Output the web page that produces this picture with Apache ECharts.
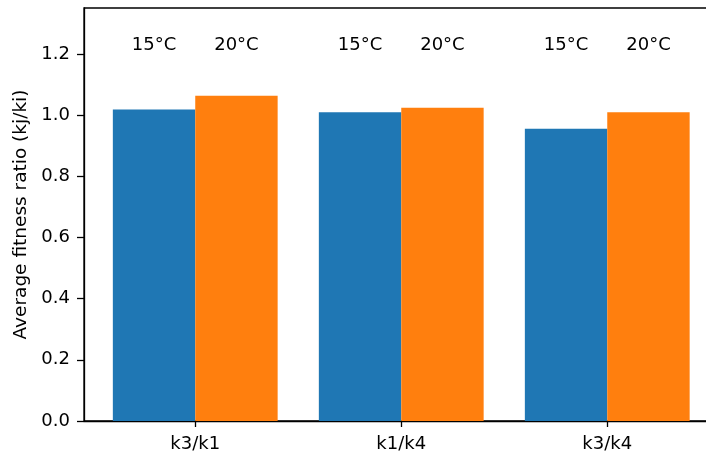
<!DOCTYPE html>
<html>
<head>
<meta charset="utf-8">
<script src="https://cdn.jsdelivr.net/npm/echarts@6/dist/echarts.min.js"></script>
<style>
  html, body { margin: 0; padding: 0; background: #fff; }
  #chart { width: 706px; height: 452px; }
</style>
</head>
<body>
<div id="chart"></div>
<script>
// Ratio pairs and the average fitness ratio measured at each temperature
const categories = ['k3/k1', 'k1/k4', 'k3/k4'];
const temps = ['15°C', '20°C'];
const ratio15 = [1.018, 1.009, 0.955];
const ratio20 = [1.063, 1.024, 1.009];
const yTicks = [0, 0.2, 0.4, 0.6, 0.8, 1.0, 1.2];
const tempLabelY = 1.228;

const colors = ['#1f77b4', '#ff7f0e'];
const FONT = 'DejaVu Sans';
const FS = 18;
const xMin = -0.54, xMax = 2.54;
const halfBar = 0.2;

function barData(values, offset) {
  return values.map((v, i) => [i + offset, v]);
}

function barRender(color) {
  return function (params, api) {
    const x = api.value(0), y = api.value(1);
    const p0 = api.coord([x - halfBar, y]);
    const p1 = api.coord([x + halfBar, 0]);
    return {
      type: 'rect',
      shape: { x: p0[0], y: p0[1], width: p1[0] - p0[0], height: p1[1] - p0[1] },
      style: { fill: color }
    };
  };
}

// temperature captions above each bar
const labelPoints = [];
const labelTexts = [];
categories.forEach((c, i) => {
  labelPoints.push([i - halfBar, tempLabelY]); labelTexts.push(temps[0]);
  labelPoints.push([i + halfBar, tempLabelY]); labelTexts.push(temps[1]);
});

function textRender(params, api) {
  const p = api.coord([api.value(0), api.value(1)]);
  return {
    type: 'text', x: p[0], y: p[1],
    style: {
      text: labelTexts[params.dataIndex], fill: '#000',
      font: FS + 'px "' + FONT + '"', align: 'center', verticalAlign: 'middle'
    }
  };
}

const chart = echarts.init(document.getElementById('chart'), null, { renderer: 'canvas' });
chart.setOption({
  animation: false,
  backgroundColor: '#fff',
  grid: {
    left: 84, top: 8, width: 634.5, height: 413,
    outerBoundsMode: 'none', containLabel: false,
    show: true, borderColor: '#000', borderWidth: 1.3, backgroundColor: 'transparent'
  },
  xAxis: {
    type: 'value', min: xMin, max: xMax,
    splitLine: { show: false },
    axisLine: { show: true, onZero: false, lineStyle: { color: '#000', width: 1.3 } },
    axisTick: { show: true, customValues: [0, 1, 2], length: 6, lineStyle: { color: '#000', width: 1.3 } },
    axisLabel: {
      customValues: [0, 1, 2],
      formatter: v => categories[Math.round(v)],
      color: '#000', fontFamily: FONT, fontSize: FS, margin: 14
    }
  },
  yAxis: {
    type: 'value', min: 0, max: 1.35,
    name: 'Average fitness ratio (kj/ki)',
    nameLocation: 'middle', nameGap: 53,
    nameTextStyle: { color: '#000', fontFamily: FONT, fontSize: 18.5 },
    splitLine: { show: false },
    axisLine: { show: true, onZero: false, lineStyle: { color: '#000', width: 1.3 } },
    axisTick: { show: true, customValues: yTicks, length: 7, lineStyle: { color: '#000', width: 1.3 } },
    axisLabel: {
      customValues: yTicks,
      formatter: v => v.toFixed(1),
      color: '#000', fontFamily: FONT, fontSize: FS, margin: 14
    }
  },
  series: [
    { type: 'custom', name: temps[0], data: barData(ratio15, -halfBar), renderItem: barRender(colors[0]) },
    { type: 'custom', name: temps[1], data: barData(ratio20, halfBar), renderItem: barRender(colors[1]) },
    { type: 'custom', data: labelPoints, silent: true, renderItem: textRender }
  ]
});
</script>
</body>
</html>
